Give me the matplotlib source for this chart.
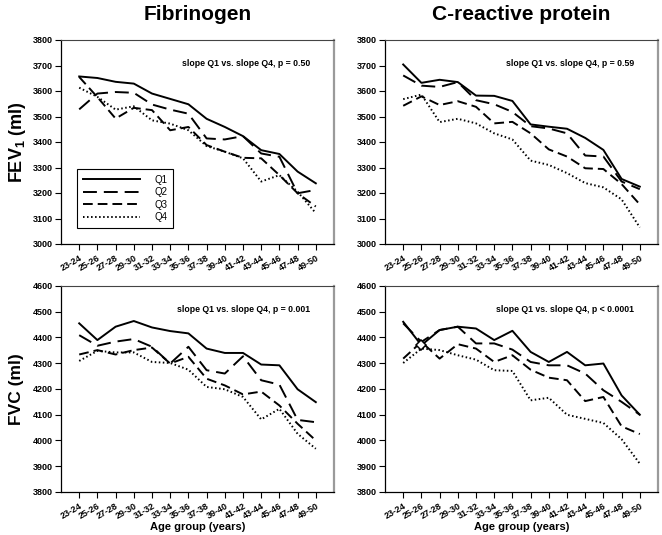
import matplotlib
matplotlib.use('Agg')
import matplotlib.pyplot as plt
from matplotlib.lines import Line2D

plt.rcParams['font.family'] = ['Liberation Sans', 'DejaVu Sans']
plt.rcParams['mathtext.fontset'] = 'custom'
plt.rcParams['mathtext.rm'] = 'Liberation Sans:bold'
plt.rcParams['mathtext.it'] = 'Liberation Sans:bold'
plt.rcParams['mathtext.bf'] = 'Liberation Sans:bold'
plt.rcParams['lines.scale_dashes'] = False

age_groups = ['23-24', '25-26', '27-28', '29-30', '31-32', '33-34', '35-36',
              '37-38', '39-40', '41-42', '43-44', '45-46', '47-48', '49-50']
quartiles = ['Q1', 'Q2', 'Q3', 'Q4']

# Fibrinogen, FEV1 (ml)
fib_fev1_q1 = [3657, 3651, 3636, 3629, 3590, 3569, 3548, 3491, 3459, 3423, 3368, 3353, 3284, 3238]
fib_fev1_q2 = [3528, 3590, 3596, 3593, 3547, 3527, 3511, 3414, 3410, 3423, 3355, 3342, 3199, 3212]
fib_fev1_q3 = [3655, 3576, 3492, 3534, 3525, 3446, 3459, 3388, 3362, 3338, 3336, 3270, 3199, 3147]
fib_fev1_q4 = [3613, 3577, 3527, 3540, 3485, 3472, 3446, 3384, 3362, 3336, 3245, 3270, 3205, 3121]

# C-reactive protein, FEV1 (ml)
crp_fev1_q1 = [3704, 3632, 3644, 3635, 3582, 3581, 3561, 3469, 3460, 3452, 3416, 3369, 3255, 3225]
crp_fev1_q2 = [3661, 3621, 3616, 3635, 3564, 3548, 3518, 3462, 3453, 3434, 3347, 3343, 3245, 3215]
crp_fev1_q3 = [3542, 3579, 3545, 3560, 3538, 3473, 3479, 3434, 3371, 3343, 3297, 3294, 3235, 3155]
crp_fev1_q4 = [3568, 3586, 3478, 3491, 3473, 3434, 3410, 3327, 3310, 3278, 3239, 3222, 3175, 3065]

# Fibrinogen, FVC (ml)
fib_fvc_q1 = [4455, 4390, 4442, 4464, 4439, 4425, 4416, 4357, 4340, 4340, 4295, 4292, 4199, 4149]
fib_fvc_q2 = [4409, 4368, 4384, 4394, 4364, 4299, 4364, 4273, 4260, 4327, 4234, 4217, 4080, 4071]
fib_fvc_q3 = [4334, 4351, 4334, 4351, 4361, 4299, 4325, 4240, 4214, 4179, 4190, 4136, 4065, 4000]
fib_fvc_q4 = [4309, 4348, 4342, 4342, 4305, 4301, 4275, 4208, 4199, 4169, 4082, 4123, 4026, 3968]

# C-reactive protein, FVC (ml)
crp_fvc_q1 = [4461, 4370, 4429, 4442, 4435, 4390, 4426, 4344, 4305, 4344, 4292, 4299, 4175, 4100]
crp_fvc_q2 = [4455, 4383, 4429, 4442, 4377, 4377, 4353, 4305, 4292, 4292, 4260, 4195, 4150, 4100]
crp_fvc_q3 = [4318, 4383, 4318, 4374, 4357, 4305, 4331, 4275, 4244, 4234, 4153, 4169, 4055, 4025]
crp_fvc_q4 = [4301, 4357, 4351, 4331, 4314, 4273, 4270, 4156, 4166, 4100, 4084, 4068, 4005, 3910]

slope_texts = ['slope Q1 vs. slope Q4, p = 0.50', 'slope Q1 vs. slope Q4, p = 0.59',
               'slope Q1 vs. slope Q4, p = 0.001', 'slope Q1 vs. slope Q4, p < 0.0001']

W, H = 662, 535
fig = plt.figure(figsize=(W / 100, H / 100), dpi=100)


def rect(l, t, r, b):
    return [l / W, 1 - b / H, (r - l) / W, (b - t) / H]


styles = [dict(linestyle='-'),
          dict(linestyle=(0, (10, 5))),
          dict(linestyle=(0, (7, 3.6))),
          dict(linestyle=(0, (1.1, 1.8)))]
LW = 1.4

panels = [
    (rect(61, 40, 334, 244), [fib_fev1_q1, fib_fev1_q2, fib_fev1_q3, fib_fev1_q4], (3000, 3800)),
    (rect(385, 40, 658, 244), [crp_fev1_q1, crp_fev1_q2, crp_fev1_q3, crp_fev1_q4], (3000, 3800)),
    (rect(61, 286, 334, 492), [fib_fvc_q1, fib_fvc_q2, fib_fvc_q3, fib_fvc_q4], (3800, 4600)),
    (rect(385, 286, 658, 492), [crp_fvc_q1, crp_fvc_q2, crp_fvc_q3, crp_fvc_q4], (3800, 4600)),
]

axes = []
x = list(range(len(age_groups)))
for pos, series, ylim in panels:
    ax = fig.add_axes(pos)
    for vals, st in zip(series, styles):
        ax.plot(x, vals, color='black', linewidth=LW, **st)
    ax.set_xlim(-1, len(age_groups))
    ax.set_ylim(*ylim)
    ax.set_yticks(range(ylim[0], ylim[1] + 1, 100))
    ax.set_xticks(x)
    ax.set_xticklabels(age_groups, rotation=30, ha='right', rotation_mode='anchor')
    ax.tick_params(axis='both', direction='out', length=4, width=0.8, labelsize=6.5, pad=2)
    ax.tick_params(axis='x', pad=3)
    for lab in ax.get_xticklabels() + ax.get_yticklabels():
        lab.set_fontweight('bold')
    ax.spines['left'].set_linewidth(0.9)
    ax.spines['bottom'].set_linewidth(0.9)
    ax.spines['top'].set_linewidth(0.8)
    ax.spines['top'].set_color('#444444')
    ax.spines['right'].set_linewidth(1.6)
    ax.spines['right'].set_color('#9a9a9a')
    axes.append(ax)

# small open diamond seen at 25-26 in the CRP / FVC panel
axes[3].plot([x[1]], [crp_fvc_q1[1]], marker='D', markersize=5, markerfacecolor='white',
             markeredgecolor='black', markeredgewidth=1.1, linestyle='none', zorder=3)

# slope annotations
for (px, py), txt in zip([(310, 63), (634, 63), (310, 309), (634, 309)], slope_texts):
    fig.text(px / W, 1 - py / H, txt, ha='right', va='center', fontsize=6.3, fontweight='bold')

# legend
handles = [Line2D([0], [0], color='black', linewidth=LW, **st) for st in styles]
leg = axes[0].legend(handles, quartiles, loc='upper left',
                     bbox_to_anchor=(77 / W, 1 - 169 / H), bbox_transform=fig.transFigure,
                     frameon=True, fancybox=False, edgecolor='black', framealpha=1,
                     handlelength=5.9, handletextpad=1.45, labelspacing=0.25,
                     borderpad=0.6, borderaxespad=0, prop={'size': 7})
leg.get_frame().set_linewidth(0.8)

# titles and axis labels
fig.text(197.5 / W, 1 - 20 / H, 'Fibrinogen', ha='center', va='baseline', fontsize=15, fontweight='bold')
fig.text(521.5 / W, 1 - 20 / H, 'C-reactive protein', ha='center', va='baseline', fontsize=15, fontweight='bold')
fig.text(18 / W, 1 - 142 / H, r'FEV$_1$ (ml)', ha='center', va='center', rotation=90, fontsize=13, fontweight='bold')
fig.text(16 / W, 1 - 389 / H, 'FVC (ml)', ha='center', va='center', rotation=90, fontsize=12.5, fontweight='bold')
fig.text(197.5 / W, 1 - 527 / H, 'Age group (years)', ha='center', va='center', fontsize=8, fontweight='bold')
fig.text(521.5 / W, 1 - 527 / H, 'Age group (years)', ha='center', va='center', fontsize=8, fontweight='bold')

fig.savefig('out.png', dpi=100, facecolor='white')
